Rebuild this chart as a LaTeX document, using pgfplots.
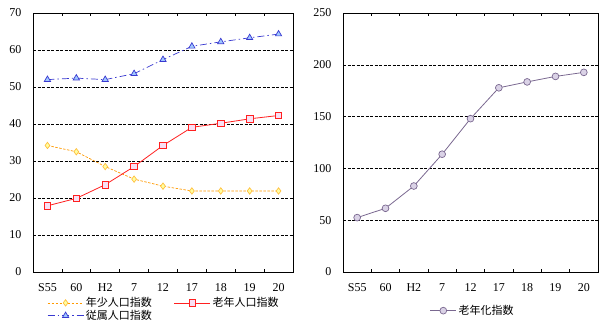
\documentclass[border=0pt]{standalone}
\usepackage{pgfplots}
\pgfplotsset{compat=1.18}
\usepackage{fontspec}
\setmainfont{Liberation Serif}
\newfontfamily\jp{Noto Sans CJK JP}
\definecolor{orgline}{HTML}{FF9900}
\definecolor{orgedge}{HTML}{FFC040}
\definecolor{orgfill}{HTML}{FFFFA0}
\definecolor{redline}{HTML}{FF2020}
\definecolor{redfill}{HTML}{F8E0F4}
\definecolor{blueline}{HTML}{3838D0}
\definecolor{bluefill}{HTML}{A0C8FF}
\definecolor{purline}{HTML}{7A6890}
\definecolor{purfill}{HTML}{DAD2E6}
\pgfplotsset{
  common/.style={
    scale only axis, anchor=south west,
    xmin=-0.5, xmax=8.5,
    xtick={0,...,8},
    xticklabels={S55,60,H2,7,12,17,18,19,20},
    minor xtick={0.5,1.5,...,7.5},
    major tick length=0pt, minor tick length=3pt, tick align=inside,
    ymajorgrids, grid style={black, dash pattern=on 3pt off 1.5pt, line width=0.6pt},
    axis line style={black, line width=0.8pt},
    tick style={black, line width=0.6pt},
    ticklabel style={font=\fontsize{12}{14}\selectfont},
    /pgf/number format/assume math mode=true,
    xticklabel style={yshift=-8pt},
    yticklabel style={xshift=-8pt},
    legend cell align=left,
    legend style={draw=none, fill=none, font=\jp\fontsize{11}{12}\selectfont, inner sep=0pt, anchor=north west},
    legend image code/.code={\draw[mark repeat=2, mark phase=2, #1] plot coordinates {(0pt,0pt) (18pt,0pt) (36pt,0pt)};},
  },
}
\begin{document}
\begin{tikzpicture}
\path[use as bounding box] (0,0) rectangle (600pt,325pt);
\begin{axis}[common, at={(33pt,53pt)}, width=260pt, height=259pt,
  ymin=0, ymax=70, ytick={0,10,...,70},
  legend columns=2,
  legend style={at={(axis description cs:0.054,-0.090)}, /tikz/every even column/.append style={column sep=20pt}, row sep=-2pt},
]
\addplot[orgline, dash pattern=on 2.5pt off 1.5pt, line width=0.7pt, mark=diamond*, mark size=3.2pt, mark options={solid, draw=orgedge, fill=orgfill, line width=0.7pt}]
  coordinates {(0,34.2) (1,32.5) (2,28.5) (3,25.1) (4,23.2) (5,21.9) (6,21.9) (7,21.9) (8,21.9)};
\addlegendentry{年少人口指数}
\addplot[redline, line width=0.8pt, mark=square*, mark size=3.3pt, mark options={solid, draw=redline, fill=redfill, line width=0.8pt}]
  coordinates {(0,17.9) (1,19.9) (2,23.6) (3,28.5) (4,34.2) (5,39.1) (6,40.2) (7,41.4) (8,42.3)};
\addlegendentry{老年人口指数}
\addplot[blueline, dash pattern=on 7pt off 3pt on 1.5pt off 3pt, line width=0.7pt, mark=triangle*, mark size=3.6pt, mark options={solid, draw=blueline, fill=bluefill, line width=0.7pt}]
  coordinates {(0,52.0) (1,52.4) (2,52.0) (3,53.6) (4,57.4) (5,61.0) (6,62.2) (7,63.3) (8,64.3)};
\addlegendentry{従属人口指数}
\end{axis}
\begin{axis}[common, at={(343pt,53pt)}, width=255pt, height=259pt,
  ymin=0, ymax=250, ytick={0,50,...,250},
  legend style={at={(axis description cs:0.34,-0.12)}},
  legend image code/.code={\draw[mark repeat=2, mark phase=2, #1] plot coordinates {(0pt,0pt) (13pt,0pt) (26pt,0pt)};},
]
\addplot[purline, line width=0.8pt, mark=*, mark size=3.4pt, mark options={draw=purline, fill=purfill, line width=0.7pt}]
  coordinates {(0,52.5) (1,61.5) (2,83.0) (3,113.7) (4,148.0) (5,177.8) (6,183.5) (7,188.8) (8,192.7)};
\addlegendentry{老年化指数}
\end{axis}
\end{tikzpicture}
\end{document}
